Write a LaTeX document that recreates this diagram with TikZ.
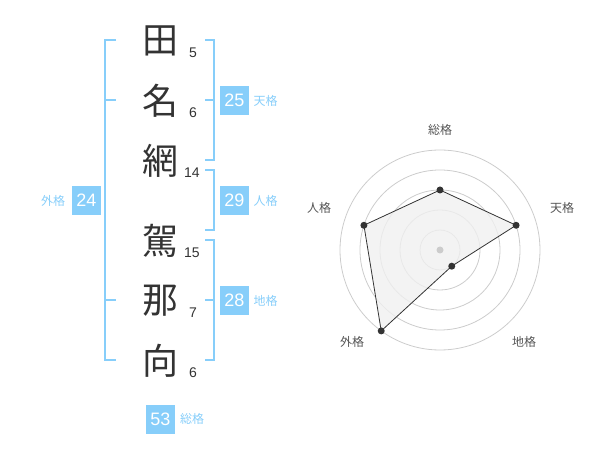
\documentclass[tikz,border=0pt]{standalone}
\usepackage{fontspec}
\setmainfont{Liberation Sans}
\newfontfamily\cjk{Noto Sans CJK JP}
\usetikzlibrary{calc}
\definecolor{kblue}{HTML}{87CEFA}
\definecolor{kdark}{HTML}{333333}
\definecolor{kgrid}{HTML}{CCCCCC}
\definecolor{kfill}{HTML}{F0F0F0}
\definecolor{klab}{HTML}{555555}
\begin{document}
\begin{tikzpicture}[x=1pt,y=-1pt,
  kanji/.style={font=\cjk\fontsize{36}{36}\selectfont,text=kdark,inner sep=0pt},
  stroke/.style={font=\fontsize{14}{14}\selectfont,text=kdark,inner sep=0pt},
  valbox/.style={fill=kblue,minimum width=29pt,minimum height=29pt,inner sep=0pt,text=white,font=\fontsize{18}{18}\selectfont},
  vallab/.style={font=\cjk\fontsize{12}{12}\selectfont,text=kblue,inner sep=0pt},
  brk/.style={draw=kblue,line width=2pt},
  ring/.style={draw=kgrid,line width=0.8pt},
  radlab/.style={font=\cjk\fontsize{12}{12}\selectfont,text=klab,inner sep=0pt},
  dot/.style={circle,fill=kdark,inner sep=0pt,minimum size=7pt}]
\useasboundingbox (0,0) rectangle (600,470);
% characters
\node[kanji] (c1) at (160,41) {田};
\node[kanji] (c2) at (160,101) {名};
\node[kanji] (c3) at (160,161) {網};
\node[kanji] (c4) at (160,241) {駕};
\node[kanji] (c5) at (160,301) {那};
\node[kanji] (c6) at (160,361) {向};
% stroke counts
\node[stroke] (n1) at (193,53) {5};
\node[stroke] (n2) at (193,113) {6};
\node[stroke] (n3) at (192,173) {14};
\node[stroke] (n4) at (192,253) {15};
\node[stroke] (n5) at (193,313) {7};
\node[stroke] (n6) at (193,373) {6};
% brackets
\draw[brk] (116,40) -- (105,40) -- (105,360) -- (116,360);
\draw[brk] (105,100) -- (116,100);
\draw[brk] (105,300) -- (116,300);
\draw[brk] (205,40) -- (214,40) -- (214,160) -- (205,160);
\draw[brk] (205,100) -- (214,100);
\draw[brk] (205,170) -- (214,170) -- (214,230) -- (205,230);
\draw[brk] (205,240) -- (214,240) -- (214,360) -- (205,360);
\draw[brk] (205,300) -- (214,300);
% value boxes
\node[valbox] (ten) at (234.5,100.5) {25};
\node[vallab] (tenl) at (265.5,100.5) {天格};
\node[valbox] (jin) at (234.5,200.5) {29};
\node[vallab] (jinl) at (265.5,200.5) {人格};
\node[valbox] (chi) at (234.5,300.5) {28};
\node[vallab] (chil) at (265.5,300.5) {地格};
\node[valbox] (gai) at (86.5,200.5) {24};
\node[vallab] (gail) at (53,200.5) {外格};
\node[valbox] (sou) at (160.5,419) {53};
\node[vallab] (soul) at (192,419) {総格};
% radar
\coordinate (o) at (440,250);
\foreach \r in {20,40,60,80,100} \draw[ring] (o) circle (\r pt);
\coordinate (ps) at ($(o)+(-90:60)$);
\coordinate (pt) at ($(o)+(-18:80)$);
\coordinate (pc) at ($(o)+(54:20)$);
\coordinate (pg) at ($(o)+(126:100)$);
\coordinate (pj) at ($(o)+(-162:80)$);
\fill[kfill,opacity=0.8] (ps) -- (pt) -- (pc) -- (pg) -- (pj) -- cycle;
\draw[kdark,line width=0.8pt] (ps) -- (pt) -- (pc) -- (pg) -- (pj) -- cycle;
\fill[kgrid] (o) circle (3.5pt);
\foreach \p in {ps,pt,pc,pg,pj} \node[dot] at (\p) {};
\node[radlab] (ls) at (440,130) {総格};
\node[radlab] (lt) at (562,208) {天格};
\node[radlab] (lc) at (524,342) {地格};
\node[radlab] (lg) at (352,342) {外格};
\node[radlab] (lj) at (319,208) {人格};
\end{tikzpicture}
\end{document}
